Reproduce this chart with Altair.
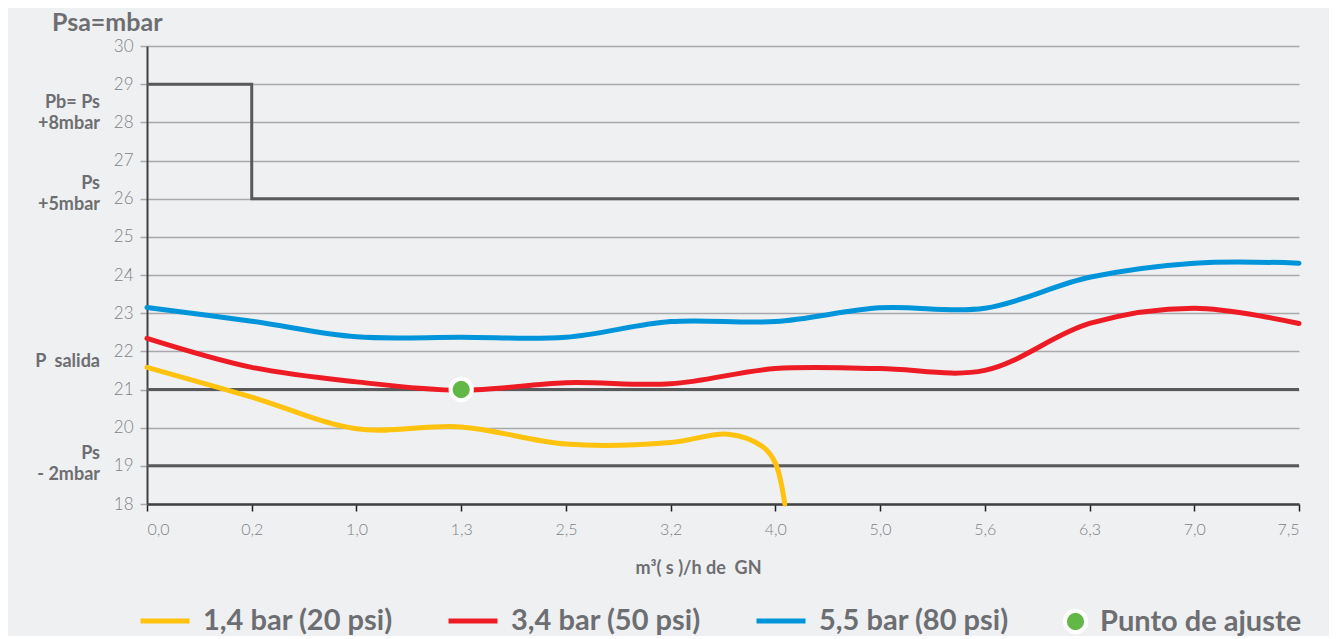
import altair as alt
import pandas as pd

# ---------------- data ----------------
x_labels = ["0,0", "0,2", "1,0", "1,3", "2,5", "3,2", "4,0", "5,0", "5,6", "6,3", "7,0", "7,5"]

series_names = ["1,4 bar (20 psi)", "3,4 bar (50 psi)", "5,5 bar (80 psi)"]
series_colors = ["#FFC20E", "#ED1C24", "#0095DA"]

# x positions are indices along the (evenly spaced) flow axis
yellow_x = [0, 1, 2, 3, 4, 5, 5.55, 5.88, 6.0, 6.09]
yellow_y = [21.58, 20.80, 19.97, 20.02, 19.57, 19.61, 19.83, 19.50, 19.07, 18.0]

red_x = [0, 1, 2, 3, 4, 5, 6, 7, 8, 9, 10, 11]
red_y = [22.34, 21.58, 21.20, 20.98, 21.18, 21.15, 21.55, 21.55, 21.50, 22.73, 23.13, 22.73]

blue_x = [0, 1, 2, 3, 4, 5, 6, 7, 8, 9, 10, 11]
blue_y = [23.15, 22.79, 22.38, 22.37, 22.37, 22.78, 22.78, 23.14, 23.13, 23.94, 24.31, 24.31]

setpoint_label = ["Punto de ajuste"]
setpoint_x = [3]
setpoint_y = [21.0]

step_x = [0, 1, 1, 11]
step_y = [29, 29, 26, 26]

ref_levels = [21, 19]

annot_text = ["Pb= Ps\n+8mbar", "Ps\n+5mbar", "P\u00a0 salida", "Ps\n- 2mbar"]
annot_y = [28.5, 26.38, 21.72, 19.31]

y_ticks = list(range(18, 31))

# ---------------- tables ----------------
rows = []
for name, xs, ys in zip(series_names, [yellow_x, red_x, blue_x], [yellow_y, red_y, blue_y]):
    for i, (xv, yv) in enumerate(zip(xs, ys)):
        rows.append({"series": name, "x": xv, "y": yv, "o": i})
df_lines = pd.DataFrame(rows)
df_step = pd.DataFrame({"x": step_x, "y": step_y, "o": list(range(len(step_x)))})
df_ref = pd.DataFrame({"y": ref_levels})
df_pt = pd.DataFrame({"label": setpoint_label, "x": setpoint_x, "y": setpoint_y})
df_annot = pd.DataFrame({"text": annot_text, "y": annot_y})

TXT = "#6D6E71"
LBL = "#808285"
DARK = "#58595B"
FONT = "Lato"

label_array = "[" + ",".join("'" + s + "'" for s in x_labels) + "]"

X = alt.X(
    "x:Q",
    scale=alt.Scale(domain=[0, 11], nice=False, zero=False),
    axis=alt.Axis(
        values=list(range(12)),
        labelExpr=label_array + "[datum.value]",
        title="m³( s )/h de\u00a0 GN",
        titleFont=FONT, titleFontSize=18, titleFontWeight="bold", titleColor=TXT,
        titleX=551, titleY=64, titleBaseline="middle",
        labelFont=FONT, labelFontSize=16, labelFontWeight=300, labelColor=LBL,
        labelPadding=10,
        tickSize=7, tickColor="#231F20", tickWidth=1.5,
        domainColor="#414042", domainWidth=2.5,
        grid=False,
    ),
)

Y = alt.Y(
    "y:Q",
    scale=alt.Scale(domain=[18, 30], nice=False, zero=False),
    axis=alt.Axis(
        values=y_ticks,
        title=None,
        labelFont=FONT, labelFontSize=17, labelFontWeight=300, labelColor=LBL,
        labelPadding=7,
        tickSize=7, tickColor="#A7A9AC", tickWidth=1.5,
        domainColor="#414042", domainWidth=2,
        grid=True, gridColor="#A7A9AC", gridWidth=1.5,
    ),
)

step = alt.Chart(df_step).mark_line(color=DARK, strokeWidth=3).encode(
    x=X, y=Y, order=alt.Order("o:Q")
)

refs = alt.Chart(df_ref).mark_rule(color=DARK, strokeWidth=3).encode(y=Y)

lines = alt.Chart(df_lines).mark_line(
    strokeWidth=5, interpolate="catmull-rom", strokeCap="round"
).encode(
    x=X,
    y=Y,
    order=alt.Order("o:Q"),
    color=alt.Color(
        "series:N",
        scale=alt.Scale(domain=series_names, range=series_colors),
        legend=alt.Legend(
            title=None, orient="none", legendX=-9, legendY=548,
            direction="horizontal", symbolType="stroke", symbolSize=2400,
            symbolStrokeWidth=5, labelFont=FONT, labelFontSize=29,
            labelFontWeight="bold", labelColor=TXT, labelOffset=11,
            columnPadding=45, labelLimit=500, padding=0,
        ),
    ),
)

point = alt.Chart(df_pt).mark_circle(
    size=452, opacity=1, stroke="white", strokeWidth=4
).encode(
    x=X,
    y=Y,
    fill=alt.Fill(
        "label:N",
        scale=alt.Scale(domain=setpoint_label, range=["#62B846"]),
        legend=alt.Legend(
            title=None, orient="none", legendX=914, legendY=561,
            symbolType="circle", symbolSize=452, symbolStrokeColor="white",
            symbolStrokeWidth=4, symbolOpacity=1,
            labelFont=FONT, labelFontSize=29, labelFontWeight="bold",
            labelColor=TXT, labelOffset=10, labelLimit=500, padding=0,
        ),
    ),
)

annots = alt.Chart(df_annot).mark_text(
    align="right", baseline="middle", lineBreak="\n", lineHeight=21,
    font=FONT, fontSize=18, fontWeight="bold", color=TXT,
).encode(x=alt.value(-47), y=Y, text="text:N")

chart = alt.layer(step, refs, lines, point, annots).properties(
    width=1152,
    height=458,
    title=alt.TitleParams(
        text="Psa=mbar", anchor="start", frame="group", dx=-95, offset=1,
        font=FONT, fontSize=25, fontWeight="bold", color=TXT,
    ),
    autosize=alt.AutoSizeParams(type="none"),
    padding={"left": 139, "top": 38, "right": 30, "bottom": 132},
).configure(background="#EFF0F2").configure_view(strokeWidth=0)

chart.save("out.html", embed_options={"renderer": "svg", "actions": False})
